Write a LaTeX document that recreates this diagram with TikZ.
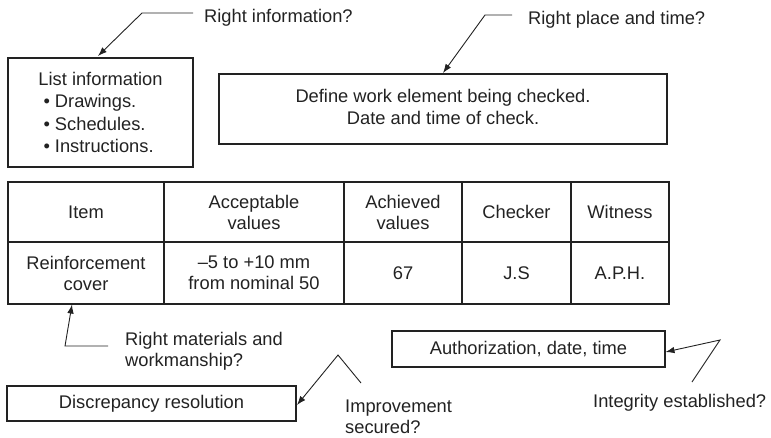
\documentclass[tikz,border=0pt]{standalone}
\usepackage{fontspec}
\setmainfont{Liberation Sans}
\usetikzlibrary{arrows.meta}
\definecolor{ink}{HTML}{222222}
\begin{document}
\begin{tikzpicture}[x=1pt,y=-1pt,
  every node/.style={font=\fontsize{18.3}{21}\selectfont, text=ink},
  box/.style={draw=ink, line width=1.1pt, inner sep=0pt, align=center},
  cell/.style={draw=ink, line width=1.1pt, inner sep=0pt, align=center},
  lbl/.style={inner sep=0pt, align=left},
  arr/.style={draw=ink, line width=0.9pt, -{Latex[length=9pt,width=6.5pt]}},
  ln/.style={draw=ink, line width=0.9pt}]
\useasboundingbox (0,0) rectangle (771,437);

% boxes
\node[box, minimum width=185pt, minimum height=109pt, font=\fontsize{18.3}{22.3}\selectfont] (list) at (100.5,112.5)
  {List information\\
   \makebox[114pt][l]{\textbullet\ Drawings.}\\
   \makebox[114pt][l]{\textbullet\ Schedules.}\\
   \makebox[114pt][l]{\textbullet\ Instructions.}};
\node[box, minimum width=448pt, minimum height=70pt, font=\fontsize{18.3}{22}\selectfont] (define) at (443,109)
  {Define work element being checked.\\Date and time of check.\rule[-5pt]{0pt}{5pt}};

% table
\node[cell, minimum width=156pt, minimum height=60pt] (c11) at (86,212) {Item};
\node[cell, minimum width=180pt, minimum height=60pt] (c12) at (254,212) {Acceptable\\values};
\node[cell, minimum width=118pt, minimum height=60pt] (c13) at (403,212) {Achieved\\values};
\node[cell, minimum width=109pt, minimum height=60pt] (c14) at (516.5,212) {Checker};
\node[cell, minimum width=98pt, minimum height=60pt] (c15) at (620,212) {Witness};
\node[cell, minimum width=156pt, minimum height=62pt] (c21) at (86,273) {Reinforcement\\cover};
\node[cell, minimum width=180pt, minimum height=62pt] (c22) at (254,273) {--5 to +10 mm\\from nominal 50};
\node[cell, minimum width=118pt, minimum height=62pt] (c23) at (403,273) {67};
\node[cell, minimum width=109pt, minimum height=62pt] (c24) at (516.5,273) {J.S};
\node[cell, minimum width=98pt, minimum height=62pt] (c25) at (620,273) {A.P.H.};

\node[box, minimum width=289pt, minimum height=35pt] (disc) at (151.5,403.5) {Discrepancy resolution};
\node[box, minimum width=273pt, minimum height=36pt] (auth) at (528.5,349) {Authorization, date, time};

% labels
\node[lbl, anchor=base west] (rinfo) at (204,22) {Right information?};
\node[lbl, anchor=base west] (rplace) at (528,24) {Right place and time?};
\node[lbl, anchor=north west] (rmat) at (125,332) {Right materials and\\workmanship?};
\node[lbl, anchor=north west] (impr) at (345,400) {Improvement\\secured?};
\node[lbl, anchor=base west] (integ) at (593,407) {Integrity established?};

% connector points
\coordinate (a1) at (193,13);
\coordinate (a2) at (142,13);
\coordinate (a3) at (98,56);
\coordinate (b1) at (512,15);
\coordinate (b2) at (485,15);
\coordinate (b3) at (443,73);
\coordinate (m1) at (108,346);
\coordinate (m2) at (65,346);
\coordinate (m3) at (72,304.5);
\coordinate (i1) at (361,383);
\coordinate (i2) at (338,355);
\coordinate (i3) at (297,405);
\coordinate (g1) at (692,382);
\coordinate (g2) at (720,340);
\coordinate (g3) at (665.5,352);

\draw[arr] (a1) -- (a2) -- (a3);
\draw[arr] (b1) -- (b2) -- (b3);
\draw[arr] (m1) -- (m2) -- (m3);
\draw[arr] (i1) -- (i2) -- (i3);
\draw[arr] (g1) -- (g2) -- (g3);
\end{tikzpicture}
\end{document}
